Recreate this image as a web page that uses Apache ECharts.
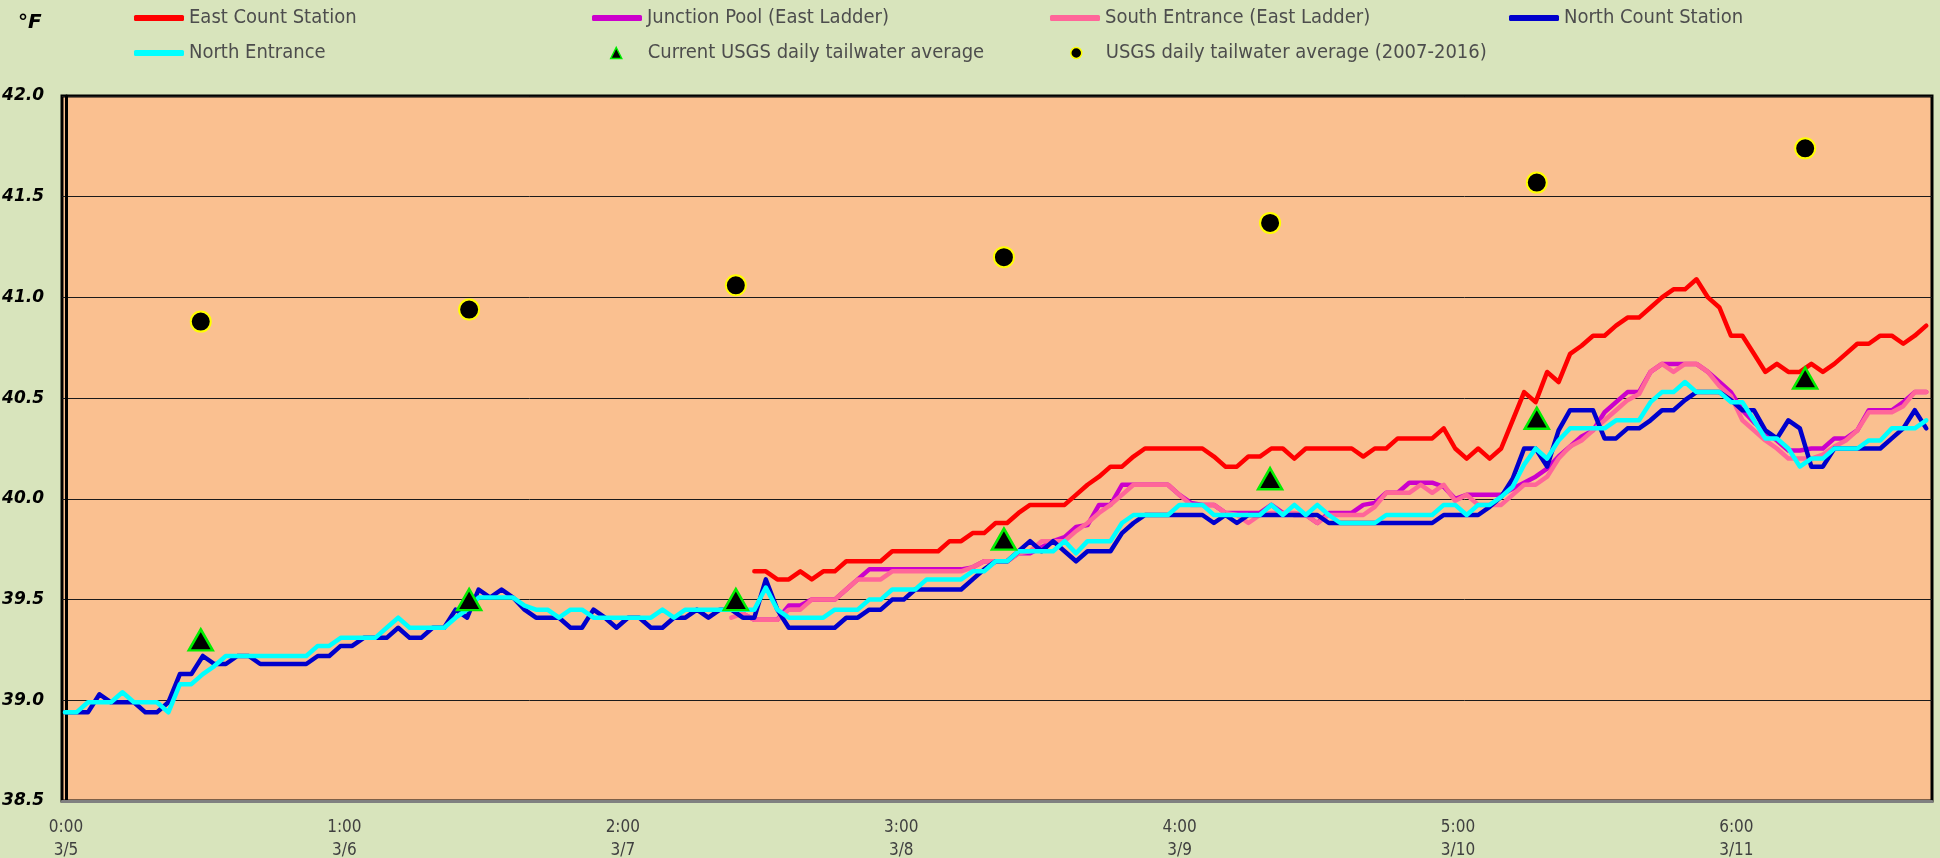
<!DOCTYPE html>
<html><head><meta charset="utf-8">
<script src="https://cdn.jsdelivr.net/npm/echarts@6.0.0/dist/echarts.min.js"></script>
<style>html,body{margin:0;padding:0;background:#d8e4bc}#c{width:1940px;height:858px}</style>
</head><body><div id="c"></div>
<script>
// ---- tick labels ----
const timeLabels = ['0:00','1:00','2:00','3:00','4:00','5:00','6:00'];
const dateLabels = ['3/5','3/6','3/7','3/8','3/9','3/10','3/11'];
const dayTicks = [0,1,2,3,4,5,6];

// ---- hourly series (°F), index = hours since 3/5 0:00 ----
const eastCountStart = 60;
const eastCount = [39.64,39.64,39.60,39.60,39.64,39.60,39.64,39.64,39.69,39.69,
 39.69,39.69,39.74,39.74,39.74,39.74,39.74,39.79,39.79,39.83,
 39.83,39.88,39.88,39.93,39.97,39.97,39.97,39.97,40.02,40.07,
 40.11,40.16,40.16,40.21,40.25,40.25,40.25,40.25,40.25,40.25,
 40.21,40.16,40.16,40.21,40.21,40.25,40.25,40.20,40.25,40.25,
 40.25,40.25,40.25,40.21,40.25,40.25,40.30,40.30,40.30,40.30,
 40.35,40.25,40.20,40.25,40.20,40.25,40.39,40.53,40.48,40.63,
 40.58,40.72,40.76,40.81,40.81,40.86,40.90,40.90,40.95,41.00,
 41.04,41.04,41.09,41.00,40.95,40.81,40.81,40.72,40.63,40.67,
 40.63,40.63,40.67,40.63,40.67,40.72,40.77,40.77,40.81,40.81,
 40.77,40.81,40.86];

const junctionPoolStart = 59;
const junctionPool = [39.43,39.40,39.40,39.40,39.47,39.47,39.50,39.50,39.50,39.55,39.60,
 39.65,39.65,39.65,39.65,39.65,39.65,39.65,39.65,39.65,39.66,
 39.69,39.69,39.69,39.73,39.73,39.76,39.79,39.81,39.86,39.87,
 39.97,39.97,40.07,40.07,40.07,40.07,40.07,40.02,39.98,39.97,
 39.97,39.93,39.93,39.93,39.93,39.97,39.93,39.92,39.92,39.88,
 39.93,39.93,39.93,39.97,39.98,40.03,40.03,40.08,40.08,40.08,
 40.06,40.00,40.02,40.02,40.02,40.02,40.05,40.08,40.11,40.15,
 40.21,40.26,40.31,40.34,40.43,40.48,40.53,40.53,40.63,40.67,
 40.67,40.67,40.67,40.63,40.58,40.53,40.44,40.38,40.33,40.29,
 40.24,40.24,40.25,40.25,40.30,40.30,40.34,40.44,40.44,40.44,
 40.48,40.53,40.53];

const southEntranceStart = 58;
const southEntrance = [39.41,39.43,39.40,39.40,39.40,39.45,39.45,39.50,39.50,39.50,39.55,39.60,
 39.60,39.60,39.64,39.64,39.64,39.64,39.64,39.64,39.64,39.66,
 39.69,39.69,39.69,39.73,39.74,39.79,39.79,39.79,39.84,39.88,
 39.93,39.97,40.02,40.07,40.07,40.07,40.07,40.02,39.97,39.97,
 39.97,39.93,39.92,39.88,39.92,39.93,39.93,39.93,39.92,39.88,
 39.92,39.92,39.92,39.92,39.96,40.03,40.03,40.03,40.07,40.03,
 40.07,39.99,40.02,39.97,39.97,39.97,40.02,40.07,40.07,40.11,
 40.20,40.26,40.29,40.34,40.39,40.44,40.49,40.52,40.63,40.67,
 40.63,40.67,40.67,40.63,40.56,40.51,40.39,40.34,40.29,40.25,
 40.20,40.20,40.20,40.22,40.26,40.29,40.34,40.43,40.43,40.43,
 40.46,40.53,40.53];

const northCountStart = 0;
const northCount = [38.94,38.94,38.94,39.03,38.99,38.99,38.99,38.94,38.94,38.99,
 39.13,39.13,39.22,39.18,39.18,39.22,39.22,39.18,39.18,39.18,
 39.18,39.18,39.22,39.22,39.27,39.27,39.31,39.31,39.31,39.36,
 39.31,39.31,39.36,39.36,39.45,39.41,39.55,39.51,39.55,39.51,
 39.45,39.41,39.41,39.41,39.36,39.36,39.45,39.41,39.36,39.41,
 39.41,39.36,39.36,39.41,39.41,39.45,39.41,39.45,39.45,39.41,
 39.41,39.60,39.45,39.36,39.36,39.36,39.36,39.36,39.41,39.41,
 39.45,39.45,39.50,39.50,39.55,39.55,39.55,39.55,39.55,39.60,
 39.65,39.69,39.69,39.74,39.79,39.74,39.79,39.74,39.69,39.74,
 39.74,39.74,39.83,39.88,39.92,39.92,39.92,39.92,39.92,39.92,
 39.88,39.92,39.88,39.92,39.92,39.92,39.92,39.92,39.92,39.92,
 39.88,39.88,39.88,39.88,39.88,39.88,39.88,39.88,39.88,39.88,
 39.92,39.92,39.92,39.92,39.96,40.01,40.10,40.25,40.25,40.16,
 40.34,40.44,40.44,40.44,40.30,40.30,40.35,40.35,40.39,40.44,
 40.44,40.49,40.53,40.53,40.53,40.49,40.44,40.44,40.34,40.30,
 40.39,40.35,40.16,40.16,40.25,40.25,40.25,40.25,40.25,40.30,
 40.35,40.44,40.35];

const northEntranceStart = 0;
const northEntrance = [38.94,38.94,38.99,38.99,38.99,39.04,38.99,38.99,38.99,38.94,
 39.08,39.08,39.13,39.17,39.22,39.22,39.22,39.22,39.22,39.22,
 39.22,39.22,39.27,39.27,39.31,39.31,39.31,39.31,39.36,39.41,
 39.36,39.36,39.36,39.36,39.41,39.45,39.51,39.51,39.51,39.51,
 39.47,39.45,39.45,39.41,39.45,39.45,39.41,39.41,39.41,39.41,
 39.41,39.41,39.45,39.41,39.45,39.45,39.45,39.45,39.45,39.45,
 39.45,39.56,39.45,39.41,39.41,39.41,39.41,39.45,39.45,39.45,
 39.50,39.50,39.55,39.55,39.55,39.60,39.60,39.60,39.60,39.64,
 39.64,39.69,39.69,39.74,39.74,39.74,39.74,39.79,39.73,39.79,
 39.79,39.79,39.88,39.92,39.92,39.92,39.92,39.97,39.97,39.97,
 39.92,39.92,39.92,39.92,39.92,39.97,39.92,39.97,39.92,39.97,
 39.92,39.88,39.88,39.88,39.88,39.92,39.92,39.92,39.92,39.92,
 39.97,39.97,39.92,39.97,39.97,40.01,40.06,40.17,40.25,40.20,
 40.29,40.35,40.35,40.35,40.35,40.39,40.39,40.39,40.48,40.53,
 40.53,40.58,40.53,40.53,40.53,40.48,40.48,40.39,40.30,40.30,
 40.25,40.16,40.20,40.20,40.25,40.25,40.25,40.29,40.29,40.35,
 40.35,40.35,40.39];

// ---- daily USGS points (x in days since 3/5 0:00) ----
const usgsDays = [0.484, 1.448, 2.406, 3.369, 4.325, 5.283, 6.247];
const currentUsgs = [39.30, 39.50, 39.50, 39.80, 40.10, 40.40, 40.60];
const historicUsgs = [40.88, 40.94, 41.06, 41.20, 41.37, 41.57, 41.74];

const toPairs = (start, arr) => arr.map((v, i) => [start + i, v]);
const narrow = "'Liberation Sans Narrow','DejaVu Sans Condensed','Open Sans',sans-serif";

const lineSeries = (name, color, start, arr) => ({
  name, type: 'line', xAxisIndex: 1, symbol: 'none', showSymbol: false,
  data: toPairs(start, arr), color,
  lineStyle: { color, width: 4.5, cap: 'round', join: 'round' },
  emphasis: { disabled: true }
});

const legendText = { fontFamily: narrow, fontSize: 20, color: '#4d4d4d' };
const lineLegend = (name, left, top) => ({
  data: [{ name, icon: 'roundRect' }], left, top, padding: 0,
  itemWidth: 50, itemHeight: 6, selectedMode: false,
  textStyle: legendText
});
const markLegend = (name, icon, left, top, size, pad) => ({
  data: [{ name, icon }], left, top, padding: 0,
  itemWidth: size, itemHeight: size, selectedMode: false,
  itemStyle: { borderWidth: 1.5 },
  textStyle: Object.assign({ padding: [0, 0, 0, pad] }, legendText)
});

const chart = echarts.init(document.getElementById('c'), null, { renderer: 'canvas' });
chart.setOption({
  animation: false,
  backgroundColor: '#d8e4bc',
  title: {
    text: '°F', left: 13, top: 8,
    textStyle: { fontFamily: 'DejaVu Sans', fontStyle: 'italic', fontWeight: 'bold', fontSize: 20, color: '#000' }
  },
  legend: [
    lineLegend('East Count Station', 134, 8),
    lineLegend('Junction Pool (East Ladder)', 592, 8),
    lineLegend('South Entrance (East Ladder)', 1050, 8),
    lineLegend('North Count Station', 1509, 8),
    lineLegend('North Entrance', 134, 43),
    markLegend('Current USGS daily tailwater average', 'triangle', 610, 43, 11, 21),
    markLegend('USGS daily tailwater average (2007-2016)', 'circle', 1070, 43, 11, 19)
  ],
  grid: {
    left: 62, right: 8, top: 96, bottom: 57,
    outerBoundsMode: 'none', containLabel: false,
    show: true, backgroundColor: '#fac090', borderColor: '#000', borderWidth: 3
  },
  xAxis: [
    {
      type: 'value', min: -0.0144, max: 6.7026,
      axisLine: { show: true, lineStyle: { color: '#808080', width: 3 } },
      axisTick: { show: false },
      splitLine: { show: false },
      axisLabel: {
        customValues: dayTicks,
        formatter: v => { const i = Math.round(v); return timeLabels[i] + '\n' + dateLabels[i]; },
        fontFamily: narrow, fontSize: 17, color: '#404040', lineHeight: 23, margin: 15
      }
    },
    { type: 'value', min: -0.26, max: 162.5, show: false }
  ],
  yAxis: {
    type: 'value', min: 38.5, max: 42, interval: 0.5,
    axisLine: { show: true, lineStyle: { color: '#000', width: 3 } },
    axisTick: { show: false },
    splitLine: { show: true, lineStyle: { color: '#1a1a1a', width: 1 } },
    axisLabel: {
      formatter: v => v.toFixed(1), margin: 18,
      fontFamily: 'DejaVu Sans', fontStyle: 'italic', fontWeight: 'bold', fontSize: 17, color: '#000'
    }
  },
  series: [
    lineSeries('East Count Station', '#ff0000', eastCountStart, eastCount),
    lineSeries('Junction Pool (East Ladder)', '#cc00cc', junctionPoolStart, junctionPool),
    lineSeries('South Entrance (East Ladder)', '#ff6699', southEntranceStart, southEntrance),
    lineSeries('North Count Station', '#0000cc', northCountStart, northCount),
    lineSeries('North Entrance', '#00ffff', northEntranceStart, northEntrance),
    {
      name: 'Current USGS daily tailwater average', type: 'scatter', xAxisIndex: 0,
      symbol: 'triangle', symbolSize: [24, 21], z: 5,
      data: usgsDays.map((d, i) => [d, currentUsgs[i]]),
      itemStyle: { color: '#000', borderColor: '#00ee00', borderWidth: 2.5, opacity: 1 },
      emphasis: { disabled: true }
    },
    {
      name: 'USGS daily tailwater average (2007-2016)', type: 'scatter', xAxisIndex: 0,
      symbol: 'circle', symbolSize: 20, z: 5,
      data: usgsDays.map((d, i) => [d, historicUsgs[i]]),
      itemStyle: { color: '#000', borderColor: '#ffff00', borderWidth: 2, opacity: 1 },
      emphasis: { disabled: true }
    }
  ]
});
</script></body></html>
